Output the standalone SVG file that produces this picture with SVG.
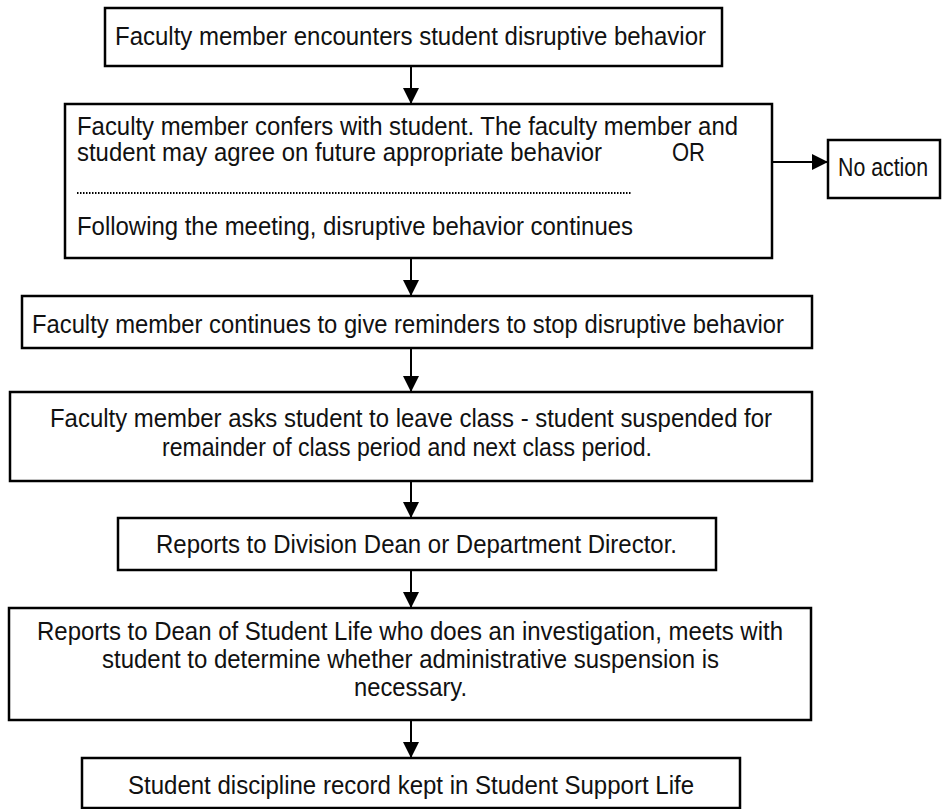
<svg xmlns="http://www.w3.org/2000/svg" width="943" height="809" viewBox="0 0 943 809">
<style>
.box{fill:#fff;stroke:#000;stroke-width:2.5}
.t{font-family:"Liberation Sans",Arial,sans-serif;font-size:25px;fill:#111}
.c{stroke:#000;stroke-width:2;fill:none}
.dot{stroke:#000;stroke-width:2;stroke-dasharray:1.5 1.5;fill:none}
</style>
<defs>
<marker id="ah" markerUnits="userSpaceOnUse" markerWidth="16" markerHeight="16" viewBox="0 0 16 16" refX="16" refY="8" orient="auto">
<path d="M0,0 L16,8 L0,16 Z" fill="#000"/>
</marker>
</defs>
<rect width="943" height="809" fill="#fff"/>
<g id="connectors">
<line class="c" x1="411" y1="66" x2="411" y2="104" marker-end="url(#ah)"/>
<line class="c" x1="772" y1="162" x2="828" y2="162" marker-end="url(#ah)"/>
<line class="c" x1="411" y1="258" x2="411" y2="296" marker-end="url(#ah)"/>
<line class="c" x1="411" y1="348" x2="411" y2="392" marker-end="url(#ah)"/>
<line class="c" x1="411" y1="481" x2="411" y2="518" marker-end="url(#ah)"/>
<line class="c" x1="411" y1="570" x2="411" y2="608" marker-end="url(#ah)"/>
<line class="c" x1="411" y1="720" x2="411" y2="758" marker-end="url(#ah)"/>
</g>
<g id="n1">
<rect class="box" x="105" y="8" width="617" height="58"/>
<text class="t" x="115" y="45" textLength="591" lengthAdjust="spacingAndGlyphs">Faculty member encounters student disruptive behavior</text>
</g>
<g id="n2">
<rect class="box" x="65" y="104" width="707" height="154"/>
<text class="t" x="77" y="135" textLength="661" lengthAdjust="spacingAndGlyphs">Faculty member confers with student. The faculty member and</text>
<text class="t" x="77" y="161" textLength="525" lengthAdjust="spacingAndGlyphs">student may agree on future appropriate behavior</text>
<text class="t" x="672" y="161" textLength="33" lengthAdjust="spacingAndGlyphs">OR</text>
<line class="dot" x1="77" y1="193" x2="632" y2="193"/>
<text class="t" x="77" y="235" textLength="556" lengthAdjust="spacingAndGlyphs">Following the meeting, disruptive behavior continues</text>
</g>
<g id="n_noaction">
<rect class="box" x="828" y="140" width="112" height="58"/>
<text class="t" x="838" y="176" textLength="90" lengthAdjust="spacingAndGlyphs">No action</text>
</g>
<g id="n3">
<rect class="box" x="22" y="296" width="790" height="52"/>
<text class="t" x="32" y="333" textLength="752" lengthAdjust="spacingAndGlyphs">Faculty member continues to give reminders to stop disruptive behavior</text>
</g>
<g id="n4">
<rect class="box" x="10" y="392" width="802" height="89"/>
<text class="t" x="50" y="427" textLength="722" lengthAdjust="spacingAndGlyphs">Faculty member asks student to leave class - student suspended for</text>
<text class="t" x="162" y="456" textLength="490" lengthAdjust="spacingAndGlyphs">remainder of class period and next class period.</text>
</g>
<g id="n5">
<rect class="box" x="118" y="518" width="598" height="52"/>
<text class="t" x="156" y="553" textLength="521" lengthAdjust="spacingAndGlyphs">Reports to Division Dean or Department Director.</text>
</g>
<g id="n6">
<rect class="box" x="9" y="608" width="802" height="112"/>
<text class="t" x="37" y="640" textLength="746" lengthAdjust="spacingAndGlyphs">Reports to Dean of Student Life who does an investigation, meets with</text>
<text class="t" x="102" y="668" textLength="617" lengthAdjust="spacingAndGlyphs">student to determine whether administrative suspension is</text>
<text class="t" x="354" y="696" textLength="113" lengthAdjust="spacingAndGlyphs">necessary.</text>
</g>
<g id="n7">
<rect class="box" x="82" y="758" width="658" height="50"/>
<text class="t" x="128" y="794" textLength="566" lengthAdjust="spacingAndGlyphs">Student discipline record kept in Student Support Life</text>
</g>
</svg>
